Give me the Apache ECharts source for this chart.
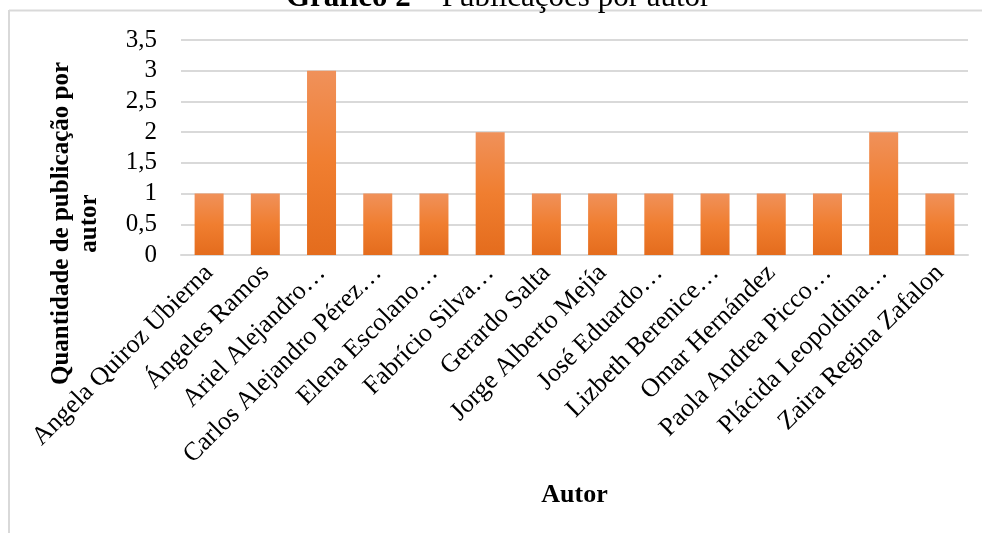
<!DOCTYPE html>
<html>
<head>
<meta charset="utf-8">
<script src="https://cdn.jsdelivr.net/npm/echarts@6/dist/echarts.min.js"></script>
<style>
  html, body { margin: 0; padding: 0; background: #fff; }
  #barChart { width: 982px; height: 533px; }
</style>
</head>
<body>
<div id="barChart"></div>
<script>
var autores = [
    'Angela Quiroz Ubierna',
    'Ángeles Ramos',
    'Ariel Alejandro…',
    'Carlos Alejandro Pérez…',
    'Elena Escolano…',
    'Fabrício Silva…',
    'Gerardo Salta',
    'Jorge Alberto Mejía',
    'José Eduardo…',
    'Lizbeth Berenice…',
    'Omar Hernández',
    'Paola Andrea Picco…',
    'Plácida Leopoldina…',
    'Zaira Regina Zafalon'
];
var publicacoes = [1, 1, 3, 1, 1, 2, 1, 1, 1, 1, 1, 1, 2, 1];

var fonte = 'Liberation Serif, Times New Roman, serif';
var cinza = '#d9d9d9';

var myChart = echarts.init(document.getElementById('barChart'));
var option = {
    backgroundColor: '#fff',
    textStyle: { fontFamily: fonte },
    title: {
        text: '{b|Gráfico 2} – Publicações por autor',
        left: 286,
        top: -18,
        padding: 0,
        textStyle: {
            fontFamily: fonte,
            fontSize: 31,
            fontWeight: 'normal',
            color: '#000',
            rich: { b: { fontFamily: fonte, fontSize: 31, fontWeight: 'bold', color: '#000' } }
        }
    },
    graphic: [
        { type: 'line', shape: { x1: 9, y1: 10.5, x2: 982, y2: 10.5 }, style: { stroke: cinza, lineWidth: 2 } },
        { type: 'line', shape: { x1: 9, y1: 10, x2: 9, y2: 533 }, style: { stroke: cinza, lineWidth: 2 } }
    ],
    grid: { left: 181, right: 14, top: 40, bottom: 278, containLabel: false, outerBoundsMode: 'none' },
    xAxis: {
        type: 'category',
        data: autores,
        name: 'Autor',
        nameLocation: 'middle',
        nameGap: 227,
        nameTextStyle: { fontFamily: fonte, fontSize: 26, fontWeight: 'bold', color: '#000' },
        axisLine: { lineStyle: { color: cinza, width: 2 } },
        axisTick: { show: false },
        axisLabel: { rotate: 45, interval: 0, margin: 14, fontFamily: fonte, fontSize: 26, color: '#000' }
    },
    yAxis: {
        type: 'value',
        min: 0,
        max: 3.5,
        interval: 0.5,
        name: 'Quantidade de publicação por\nautor',
        nameLocation: 'middle',
        nameRotate: 90,
        nameGap: 77,
        nameTextStyle: { fontFamily: fonte, fontSize: 25, fontWeight: 'bold', color: '#000', lineHeight: 28, padding: [0, 152, 0, 0] },
        axisLine: { show: false },
        axisTick: { show: false },
        axisLabel: {
            margin: 24,
            fontFamily: fonte,
            fontSize: 25,
            color: '#000',
            formatter: function (v) { return String(v).replace('.', ','); }
        },
        splitLine: { lineStyle: { color: cinza, width: 2 } }
    },
    series: [
        {
            type: 'bar',
            data: publicacoes,
            barWidth: 29,
            itemStyle: {
                color: new echarts.graphic.LinearGradient(0, 0, 0, 1, [
                    { offset: 0, color: '#f0915a' },
                    { offset: 0.5, color: '#f07e30' },
                    { offset: 1, color: '#e46c1d' }
                ]),
                shadowBlur: 7,
                shadowColor: 'rgba(0,0,0,0.4)',
                shadowOffsetX: 1,
                shadowOffsetY: 3
            }
        }
    ]
};
myChart.setOption(option);
</script>
</body>
</html>
